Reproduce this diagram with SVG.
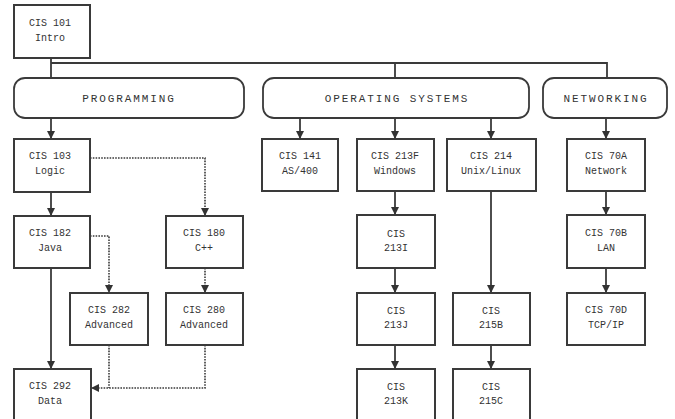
<svg xmlns="http://www.w3.org/2000/svg" width="675" height="419" viewBox="0 0 675 419">
<defs>
<style>
.n{fill:#fff;stroke:#3a3a3a;stroke-width:2}
.c{fill:#fff;stroke:#3a3a3a;stroke-width:1.8}
.t{font-family:"Liberation Mono","DejaVu Sans Mono",monospace;font-size:10px;fill:#333;text-anchor:middle}
.h{font-family:"Liberation Mono","DejaVu Sans Mono",monospace;font-size:11px;fill:#333;text-anchor:middle;letter-spacing:1.9px}
.l{fill:none;stroke:#3a3a3a;stroke-width:1.8}
.d{fill:none;stroke:#3a3a3a;stroke-width:1.6;stroke-dasharray:1.6 1.2}
</style>
<marker id="a" viewBox="0 0 10 10" refX="10" refY="5" markerWidth="8" markerHeight="8" markerUnits="userSpaceOnUse" orient="auto">
<path d="M0,0 L10,5 L0,10 z" fill="#333"/>
</marker>
</defs>
<rect width="675" height="419" fill="#fff"/>
<g id="connectors">
<path class="l" d="M51,58 V78 M51,63 H607 V78 M395,63 V78"/>
<path class="l" marker-end="url(#a)" d="M51,118 V139"/>
<path class="l" marker-end="url(#a)" d="M300,118 V139"/>
<path class="l" marker-end="url(#a)" d="M395,118 V139"/>
<path class="l" marker-end="url(#a)" d="M491,118 V139"/>
<path class="l" marker-end="url(#a)" d="M606,118 V139"/>
<path class="l" marker-end="url(#a)" d="M51,192 V216"/>
<path class="l" marker-end="url(#a)" d="M51,268 V369"/>
<path class="d" marker-end="url(#a)" d="M90,158 H205 V216"/>
<path class="d" marker-end="url(#a)" d="M90,236 H109 V293"/>
<path class="d" marker-end="url(#a)" d="M205,268 V293"/>
<path class="d" d="M109,345 V388"/>
<path class="d" marker-end="url(#a)" d="M205,345 V388 H91"/>
<path class="l" marker-end="url(#a)" d="M395,191 V215"/>
<path class="l" marker-end="url(#a)" d="M395,268 V293"/>
<path class="l" marker-end="url(#a)" d="M395,345 V369"/>
<path class="l" marker-end="url(#a)" d="M491,191 V293"/>
<path class="l" marker-end="url(#a)" d="M491,345 V369"/>
<path class="l" marker-end="url(#a)" d="M606,191 V215"/>
<path class="l" marker-end="url(#a)" d="M606,268 V293"/>
</g>
<g id="cis101"><rect class="n" x="14" y="5" width="76" height="53"/><text class="t" x="50" y="26">CIS 101</text><text class="t" x="50" y="41">Intro</text></g>
<g id="programming"><rect class="c" x="14" y="78" width="230" height="40" rx="11"/><text class="h" x="129" y="102">PROGRAMMING</text></g>
<g id="os"><rect class="c" x="263" y="78" width="266" height="40" rx="11"/><text class="h" x="397" y="102">OPERATING SYSTEMS</text></g>
<g id="networking"><rect class="c" x="543" y="78" width="124" height="40" rx="11"/><text class="h" x="606" y="102">NETWORKING</text></g>
<g id="cis103"><rect class="n" x="14" y="139" width="76" height="53"/><text class="t" x="50" y="159">CIS 103</text><text class="t" x="50" y="174">Logic</text></g>
<g id="cis182"><rect class="n" x="14" y="216" width="76" height="52"/><text class="t" x="50" y="236">CIS 182</text><text class="t" x="50" y="251">Java</text></g>
<g id="cis180"><rect class="n" x="166" y="216" width="77" height="52"/><text class="t" x="204" y="236">CIS 180</text><text class="t" x="204" y="251">C++</text></g>
<g id="cis282"><rect class="n" x="70" y="293" width="78" height="52"/><text class="t" x="109" y="313">CIS 282</text><text class="t" x="109" y="328">Advanced</text></g>
<g id="cis280"><rect class="n" x="166" y="293" width="77" height="52"/><text class="t" x="204" y="313">CIS 280</text><text class="t" x="204" y="328">Advanced</text></g>
<g id="cis292"><rect class="n" x="14" y="369" width="77" height="56"/><text class="t" x="50" y="389">CIS 292</text><text class="t" x="50" y="404">Data</text></g>
<g id="cis141"><rect class="n" x="262" y="139" width="76" height="52"/><text class="t" x="300" y="159">CIS 141</text><text class="t" x="300" y="174">AS/400</text></g>
<g id="cis213f"><rect class="n" x="357" y="139" width="77" height="52"/><text class="t" x="395" y="159">CIS 213F</text><text class="t" x="395" y="174">Windows</text></g>
<g id="cis214"><rect class="n" x="447" y="139" width="89" height="52"/><text class="t" x="491" y="159">CIS 214</text><text class="t" x="491" y="174">Unix/Linux</text></g>
<g id="cis213i"><rect class="n" x="357" y="215" width="78" height="53"/><text class="t" x="396" y="237">CIS</text><text class="t" x="396" y="251">213I</text></g>
<g id="cis213j"><rect class="n" x="357" y="293" width="78" height="52"/><text class="t" x="396" y="314">CIS</text><text class="t" x="396" y="328">213J</text></g>
<g id="cis213k"><rect class="n" x="357" y="369" width="78" height="56"/><text class="t" x="396" y="390">CIS</text><text class="t" x="396" y="404">213K</text></g>
<g id="cis215b"><rect class="n" x="453" y="293" width="77" height="52"/><text class="t" x="491" y="314">CIS</text><text class="t" x="491" y="328">215B</text></g>
<g id="cis215c"><rect class="n" x="453" y="369" width="77" height="56"/><text class="t" x="491" y="390">CIS</text><text class="t" x="491" y="404">215C</text></g>
<g id="cis70a"><rect class="n" x="567" y="139" width="78" height="52"/><text class="t" x="606" y="159">CIS 70A</text><text class="t" x="606" y="174">Network</text></g>
<g id="cis70b"><rect class="n" x="567" y="215" width="78" height="53"/><text class="t" x="606" y="236">CIS 70B</text><text class="t" x="606" y="251">LAN</text></g>
<g id="cis70d"><rect class="n" x="567" y="293" width="78" height="52"/><text class="t" x="606" y="313">CIS 70D</text><text class="t" x="606" y="328">TCP/IP</text></g>
</svg>
